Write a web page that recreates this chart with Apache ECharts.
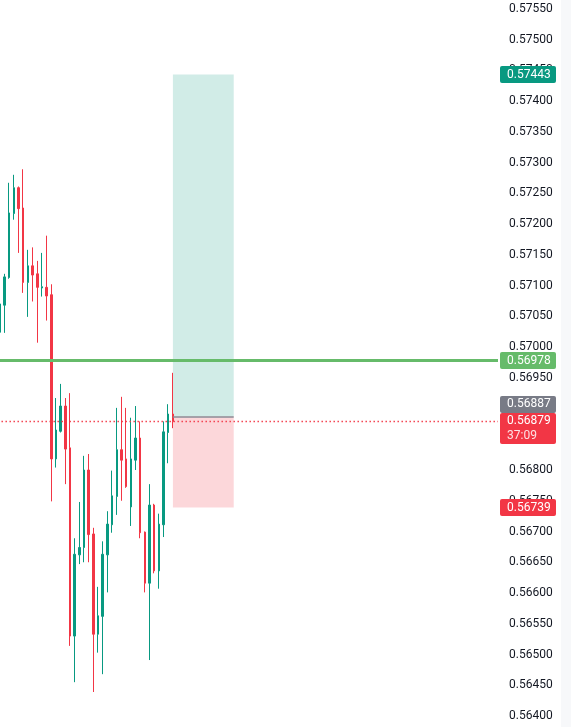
<!DOCTYPE html>
<html>
<head>
<meta charset="utf-8">
<script src="https://cdn.jsdelivr.net/npm/echarts@6/dist/echarts.min.js"></script>
<style>
html, body { margin: 0; padding: 0; background: #fff; }
#main { width: 571px; height: 727px; }
</style>
</head>
<body>
<div id="main"></div>
<script>
// candles, oldest first
var opens  = [0.57024, 0.57068, 0.57113, 0.57217, 0.57259, 0.57226, 0.57105, 0.57132, 0.57119, 0.57096,
              0.57097, 0.57085, 0.56818, 0.56863, 0.56904, 0.56836, 0.56530, 0.56662, 0.56674, 0.56800,
              0.56696, 0.56533, 0.56562, 0.56662, 0.56711, 0.56757, 0.56833, 0.56818, 0.56740, 0.56816,
              0.56852, 0.56699, 0.56616, 0.56743, 0.56636, 0.56711, 0.56861, 0.56891];
var closes = [0.57070, 0.57114, 0.57218, 0.57259, 0.57225, 0.57105, 0.57132, 0.57117, 0.57097, 0.57098,
              0.57083, 0.56818, 0.56865, 0.56904, 0.56834, 0.56530, 0.56663, 0.56674, 0.56800, 0.56695,
              0.56533, 0.56563, 0.56663, 0.56712, 0.56758, 0.56833, 0.56816, 0.56773, 0.56818, 0.56852,
              0.56698, 0.56616, 0.56743, 0.56636, 0.56712, 0.56862, 0.56891, 0.56879];
var highs  = [0.57076, 0.57119, 0.57267, 0.57280, 0.57261, 0.57289, 0.57158, 0.57162, 0.57140, 0.57153,
              0.57181, 0.57102, 0.56917, 0.56940, 0.56917, 0.56925, 0.56689, 0.56748, 0.56823, 0.56826,
              0.56706, 0.56610, 0.56684, 0.56733, 0.56799, 0.56901, 0.56919, 0.56901, 0.56885, 0.56904,
              0.56879, 0.56700, 0.56777, 0.56745, 0.56729, 0.56879, 0.56907, 0.56958];
var lows   = [0.57023, 0.57023, 0.57111, 0.57207, 0.57153, 0.57088, 0.57049, 0.57074, 0.57007, 0.57082,
              0.57043, 0.56749, 0.56804, 0.56861, 0.56777, 0.56514, 0.56455, 0.56647, 0.56650, 0.56650,
              0.56439, 0.56503, 0.56468, 0.56601, 0.56698, 0.56727, 0.56750, 0.56771, 0.56709, 0.56800,
              0.56689, 0.56601, 0.56491, 0.56632, 0.56607, 0.56691, 0.56811, 0.56868];

var slotCount = 107;          // visible bar slots incl. empty space on the right
var hLine = 0.56978;          // drawn horizontal line
var lastPrice = 0.56879;
var countdown = '37:09';
var entry = 0.56887, target = 0.57443, stop = 0.56739;
var boxFrom = 37, boxTo = 50; // long position box, in bar slots

var upColor = '#089981', downColor = '#f23645';

var cats = [];
for (var i = 0; i < slotCount; i++) cats.push(String(i));
var candles = [];
for (var i = 0; i < opens.length; i++) candles.push([opens[i], closes[i], lows[i], highs[i]]);

var chart = echarts.init(document.getElementById('main'), null, { renderer: 'canvas' });

var option = {
    animation: false,
    backgroundColor: '#ffffff',
    grid: { left: -2.5, right: 73, top: -22, bottom: -19.75, containLabel: false, outerBoundsMode: 'none' },
    xAxis: {
        type: 'category',
        data: cats,
        show: false,
        boundaryGap: true
    },
    yAxis: {
        type: 'value',
        position: 'right',
        min: 0.5635,
        max: 0.576,
        interval: 0.0005,
        axisLine: { show: false },
        axisTick: { show: false },
        splitLine: { show: false },
        axisLabel: {
            color: '#131722',
            fontSize: 12,
            fontFamily: 'Roboto',
            margin: 11,
            formatter: function (v) { return v.toFixed(5); }
        }
    },
    series: [{
        type: 'candlestick',
        data: candles,
        barWidth: 2,
        itemStyle: {
            color: upColor,
            color0: downColor,
            borderColor: upColor,
            borderColor0: downColor,
            borderWidth: 1
        },
        markArea: {
            silent: true,
            data: [
                [{ xAxis: boxFrom, yAxis: entry, itemStyle: { color: 'rgba(8,153,129,0.19)' } },
                 { xAxis: boxTo, yAxis: target }],
                [{ xAxis: boxFrom, yAxis: stop, itemStyle: { color: 'rgba(242,54,69,0.2)' } },
                 { xAxis: boxTo, yAxis: entry }]
            ]
        },
        markLine: {
            silent: true,
            precision: 5,
            symbol: ['none', 'none'],
            label: { show: false },
            data: [
                { yAxis: lastPrice, lineStyle: { color: downColor, width: 1.4, type: [1.4, 2.6] } },
                { yAxis: hLine, lineStyle: { color: '#66bb6a', width: 3, type: 'solid' } },
                [{ xAxis: boxFrom, yAxis: entry, lineStyle: { color: '#8a8d96', width: 1.5, type: 'solid' } },
                 { xAxis: boxTo, yAxis: entry }]
            ]
        }
    }]
};
chart.setOption(option);

// price tags on the scale, placed through the axis
function yOf(v) { return chart.convertToPixel({ yAxisIndex: 0 }, v); }
var tagX = 500, tagW = 56, tagH = 17;
function tag(top, h, fill, lines) {
    var out = [{ type: 'rect', z: 100, shape: { x: tagX, y: top, width: tagW, height: h, r: 2 }, style: { fill: fill } }];
    for (var k = 0; k < lines.length; k++) {
        out.push({
            type: 'text',
            z: 101,
            style: {
                x: tagX + 7, y: top + 8.5 + k * 14.5, text: lines[k],
                fill: k ? 'rgba(255,255,255,0.85)' : '#ffffff',
                font: '12px Roboto', verticalAlign: 'middle'
            }
        });
    }
    return out;
}
var yLast = yOf(lastPrice);
var redTop = yLast - 8.5;
var tags = [{ type: 'rect', z: -1, shape: { x: 561, y: 0, width: 10, height: 727 }, style: { fill: '#f7f8fa' } }]
    .concat(tag(yOf(target) - tagH / 2, tagH, upColor, [target.toFixed(5)]))
    .concat(tag(yOf(hLine) - tagH / 2, tagH, '#66bb6a', [hLine.toFixed(5)]))
    .concat(tag(redTop - tagH, tagH, '#787b86', [entry.toFixed(5)]))
    .concat(tag(redTop, 31, downColor, [lastPrice.toFixed(5), countdown]))
    .concat(tag(yOf(stop) - tagH / 2, tagH, downColor, [stop.toFixed(5)]));
chart.setOption({ graphic: tags });
</script>
</body>
</html>
